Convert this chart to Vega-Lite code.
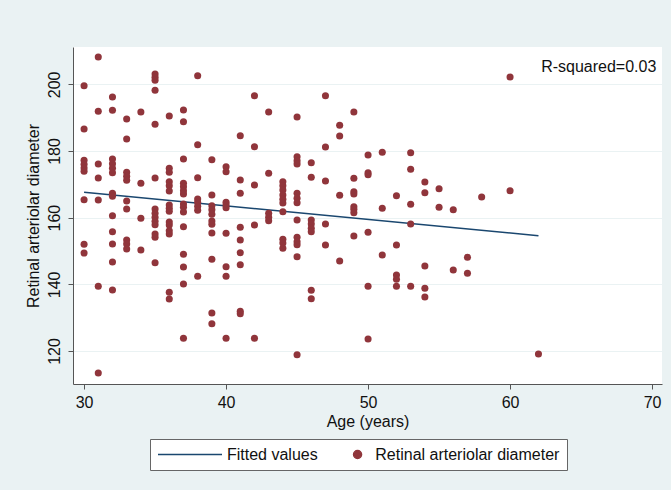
{
  "$schema": "https://vega.github.io/schema/vega-lite/v6.json",
  "width": 589,
  "height": 337,
  "autosize": {"type": "none"},
  "padding": {"left": 73, "top": 47, "right": 9, "bottom": 106},
  "background": "#eaf2f3",
  "config": {
    "view": {"fill": "white", "stroke": null},
    "font": "Liberation Sans",
    "axis": {
      "labelFont": "Liberation Sans", "titleFont": "Liberation Sans",
      "labelFontSize": 16, "titleFontSize": 16,
      "labelColor": "#111", "titleColor": "#111", "titleFontWeight": "normal",
      "domainColor": "#555", "tickColor": "#555", "tickSize": 5,
      "domainWidth": 1, "tickWidth": 1,
      "gridColor": "#eaf2f3", "gridWidth": 1
    },
    "legend": {
      "labelFont": "Liberation Sans", "labelFontSize": 16, "labelColor": "#111"
    }
  },
  "datasets": {
    "fit": [
      {"age": 30, "d": 167.6},
      {"age": 62, "d": 154.6}
    ],
    "ann": [
      {"age": 70.3, "d": 203.6, "label": "R-squared=0.03"}
    ],
    "points": [
      {"age": 30, "d": 199.6}, {"age": 30, "d": 186.6}, {"age": 30, "d": 177.2}, {"age": 30, "d": 176.0}, {"age": 30, "d": 174.9}, {"age": 30, "d": 173.9}, {"age": 30, "d": 165.4}, {"age": 30, "d": 152.0}, {"age": 30, "d": 149.4},
      {"age": 31, "d": 208.2}, {"age": 31, "d": 191.9}, {"age": 31, "d": 176.1}, {"age": 31, "d": 171.9}, {"age": 31, "d": 165.3}, {"age": 31, "d": 139.4}, {"age": 31, "d": 113.4},
      {"age": 32, "d": 196.2}, {"age": 32, "d": 192.2}, {"age": 32, "d": 177.6}, {"age": 32, "d": 176.2}, {"age": 32, "d": 174.8}, {"age": 32, "d": 173.5}, {"age": 32, "d": 167.3}, {"age": 32, "d": 166.4}, {"age": 32, "d": 160.6}, {"age": 32, "d": 155.8}, {"age": 32, "d": 152.1}, {"age": 32, "d": 146.7}, {"age": 32, "d": 138.3},
      {"age": 33, "d": 189.6}, {"age": 33, "d": 183.6}, {"age": 33, "d": 173.6}, {"age": 33, "d": 172.4}, {"age": 33, "d": 171.2}, {"age": 33, "d": 165.0}, {"age": 33, "d": 162.6}, {"age": 33, "d": 153.3}, {"age": 33, "d": 152.1}, {"age": 33, "d": 150.6},
      {"age": 34, "d": 191.7}, {"age": 34, "d": 170.3}, {"age": 34, "d": 159.8}, {"age": 34, "d": 150.3},
      {"age": 35, "d": 203.1}, {"age": 35, "d": 202.1}, {"age": 35, "d": 201.2}, {"age": 35, "d": 198.2}, {"age": 35, "d": 188.0}, {"age": 35, "d": 171.9}, {"age": 35, "d": 162.6}, {"age": 35, "d": 161.3}, {"age": 35, "d": 160.1}, {"age": 35, "d": 158.9}, {"age": 35, "d": 157.9}, {"age": 35, "d": 155.1}, {"age": 35, "d": 154.1}, {"age": 35, "d": 146.5},
      {"age": 36, "d": 190.5}, {"age": 36, "d": 174.8}, {"age": 36, "d": 173.6}, {"age": 36, "d": 170.8}, {"age": 36, "d": 169.6}, {"age": 36, "d": 168.0}, {"age": 36, "d": 163.8}, {"age": 36, "d": 162.8}, {"age": 36, "d": 161.9}, {"age": 36, "d": 158.7}, {"age": 36, "d": 157.8}, {"age": 36, "d": 156.1}, {"age": 36, "d": 155.1}, {"age": 36, "d": 137.6}, {"age": 36, "d": 135.6},
      {"age": 37, "d": 192.3}, {"age": 37, "d": 188.8}, {"age": 37, "d": 177.6}, {"age": 37, "d": 170.3}, {"age": 37, "d": 169.3}, {"age": 37, "d": 168.1}, {"age": 37, "d": 167.1}, {"age": 37, "d": 164.1}, {"age": 37, "d": 163.1}, {"age": 37, "d": 161.7}, {"age": 37, "d": 157.3}, {"age": 37, "d": 149.0}, {"age": 37, "d": 145.2}, {"age": 37, "d": 140.1}, {"age": 37, "d": 123.8},
      {"age": 38, "d": 202.6}, {"age": 38, "d": 181.9}, {"age": 38, "d": 172.0}, {"age": 38, "d": 165.6}, {"age": 38, "d": 164.6}, {"age": 38, "d": 163.4}, {"age": 38, "d": 162.2}, {"age": 38, "d": 142.4},
      {"age": 39, "d": 177.4}, {"age": 39, "d": 166.8}, {"age": 39, "d": 163.6}, {"age": 39, "d": 162.4}, {"age": 39, "d": 161.0}, {"age": 39, "d": 159.0}, {"age": 39, "d": 158.0}, {"age": 39, "d": 155.4}, {"age": 39, "d": 147.5}, {"age": 39, "d": 131.4}, {"age": 39, "d": 128.2},
      {"age": 40, "d": 175.3}, {"age": 40, "d": 173.8}, {"age": 40, "d": 164.6}, {"age": 40, "d": 163.8}, {"age": 40, "d": 163.0}, {"age": 40, "d": 155.3}, {"age": 40, "d": 145.3}, {"age": 40, "d": 142.4}, {"age": 40, "d": 123.8},
      {"age": 41, "d": 184.6}, {"age": 41, "d": 171.3}, {"age": 41, "d": 167.3}, {"age": 41, "d": 157.1}, {"age": 41, "d": 153.3}, {"age": 41, "d": 149.5}, {"age": 41, "d": 145.9}, {"age": 41, "d": 131.9}, {"age": 41, "d": 131.2},
      {"age": 42, "d": 196.6}, {"age": 42, "d": 181.3}, {"age": 42, "d": 169.8}, {"age": 42, "d": 157.8}, {"age": 42, "d": 123.8},
      {"age": 43, "d": 191.7}, {"age": 43, "d": 173.3}, {"age": 43, "d": 161.3}, {"age": 43, "d": 160.1}, {"age": 43, "d": 159.1},
      {"age": 44, "d": 170.8}, {"age": 44, "d": 169.6}, {"age": 44, "d": 168.3}, {"age": 44, "d": 166.8}, {"age": 44, "d": 165.5}, {"age": 44, "d": 164.4}, {"age": 44, "d": 161.8}, {"age": 44, "d": 153.5}, {"age": 44, "d": 152.4}, {"age": 44, "d": 150.8},
      {"age": 45, "d": 190.2}, {"age": 45, "d": 178.3}, {"age": 45, "d": 177.1}, {"age": 45, "d": 176.1}, {"age": 45, "d": 167.3}, {"age": 45, "d": 165.8}, {"age": 45, "d": 164.5}, {"age": 45, "d": 159.3}, {"age": 45, "d": 154.1}, {"age": 45, "d": 152.8}, {"age": 45, "d": 151.9}, {"age": 45, "d": 148.3}, {"age": 45, "d": 118.9},
      {"age": 46, "d": 176.5}, {"age": 46, "d": 172.1}, {"age": 46, "d": 159.3}, {"age": 46, "d": 158.1}, {"age": 46, "d": 156.8}, {"age": 46, "d": 155.8}, {"age": 46, "d": 138.2}, {"age": 46, "d": 135.7},
      {"age": 47, "d": 196.6}, {"age": 47, "d": 181.2}, {"age": 47, "d": 171.0}, {"age": 47, "d": 158.1}, {"age": 47, "d": 151.8},
      {"age": 48, "d": 187.7}, {"age": 48, "d": 184.5}, {"age": 48, "d": 166.7}, {"age": 48, "d": 147.0},
      {"age": 49, "d": 191.7}, {"age": 49, "d": 171.8}, {"age": 49, "d": 167.8}, {"age": 49, "d": 167.1}, {"age": 49, "d": 163.3}, {"age": 49, "d": 162.5}, {"age": 49, "d": 161.5}, {"age": 49, "d": 154.5},
      {"age": 50, "d": 178.8}, {"age": 50, "d": 173.5}, {"age": 50, "d": 172.9}, {"age": 50, "d": 155.6}, {"age": 50, "d": 139.4}, {"age": 50, "d": 123.6},
      {"age": 51, "d": 179.6}, {"age": 51, "d": 162.8}, {"age": 51, "d": 148.8},
      {"age": 52, "d": 166.6}, {"age": 52, "d": 151.8}, {"age": 52, "d": 142.8}, {"age": 52, "d": 141.5}, {"age": 52, "d": 139.4},
      {"age": 53, "d": 179.5}, {"age": 53, "d": 174.5}, {"age": 53, "d": 164.0}, {"age": 53, "d": 158.1}, {"age": 53, "d": 139.4},
      {"age": 54, "d": 170.7}, {"age": 54, "d": 167.5}, {"age": 54, "d": 145.5}, {"age": 54, "d": 138.8}, {"age": 54, "d": 136.2},
      {"age": 55, "d": 168.7}, {"age": 55, "d": 163.1},
      {"age": 56, "d": 162.4}, {"age": 56, "d": 144.3},
      {"age": 57, "d": 148.1}, {"age": 57, "d": 143.3},
      {"age": 58, "d": 166.2},
      {"age": 60, "d": 202.2}, {"age": 60, "d": 168.1},
      {"age": 62, "d": 119.1}
    ]
  },
  "encoding": {
    "x": {
      "field": "age", "type": "quantitative",
      "scale": {"domain": [29.22, 70.7], "nice": false, "zero": false},
      "axis": {"values": [30, 40, 50, 60, 70], "grid": false, "title": "Age (years)", "labelPadding": 5, "titlePadding": 3}
    },
    "y": {
      "field": "d", "type": "quantitative",
      "scale": {"domain": [110.1, 211.2], "nice": false, "zero": false},
      "axis": {"values": [120, 140, 160, 180, 200], "grid": true, "labelAngle": 270, "labelPadding": 6, "title": "Retinal arteriolar diameter", "titlePadding": 5}
    }
  },
  "layer": [
    {
      "data": {"name": "fit"},
      "mark": {"type": "line", "strokeWidth": 1.5},
      "encoding": {
        "color": {
          "datum": "Fitted values",
          "scale": {"domain": ["Fitted values", "Retinal arteriolar diameter"], "range": ["#1a476f", "#90353b"]},
          "legend": {
            "title": null,
            "orient": "none",
            "legendX": 77,
            "legendY": 392,
            "direction": "horizontal",
            "fillColor": "white",
            "strokeColor": "#666",
            "padding": 7,
            "clipHeight": 17,
            "columnPadding": 0,
            "labelOffset": 4,
            "symbolOffset": 0,
            "symbolSize": 4096,
            "symbolStrokeWidth": 1.5,
            "labelLimit": 400,
            "labelExpr": "datum.label == 'Retinal arteriolar diameter' ? datum.label + '\u00a0\u00a0\u00a0\u00a0\u00a0\u00a0\u00a0\u00a0' : datum.label",
            "encode": {
              "symbols": {
                "update": {
                  "shape": {"signal": "datum.value == 'Fitted values' ? 'stroke' : 'M0.08,0A0.125,0.125 0 1,0 0.33,0A0.125,0.125 0 1,0 0.08,0Z'"},
                  "stroke": {"signal": "datum.value == 'Fitted values' ? '#1a476f' : 'transparent'"},
                  "fill": {"signal": "datum.value == 'Fitted values' ? 'transparent' : '#90353b'"},
                  "opacity": {"value": 1}
                }
              },
              "labels": {
                "update": {
                  "dx": {"signal": "datum.value == 'Fitted values' ? 0 : -12.7"}
                }
              }
            }
          }
        }
      }
    },
    {
      "data": {"name": "points"},
      "mark": {"type": "circle", "size": 50, "opacity": 1},
      "encoding": {
        "color": {"datum": "Retinal arteriolar diameter"}
      }
    },
    {
      "data": {"name": "ann"},
      "mark": {"type": "text", "align": "right", "baseline": "alphabetic", "fontSize": 16, "font": "Liberation Sans", "color": "#111"},
      "encoding": {
        "text": {"field": "label"}
      }
    }
  ]
}
